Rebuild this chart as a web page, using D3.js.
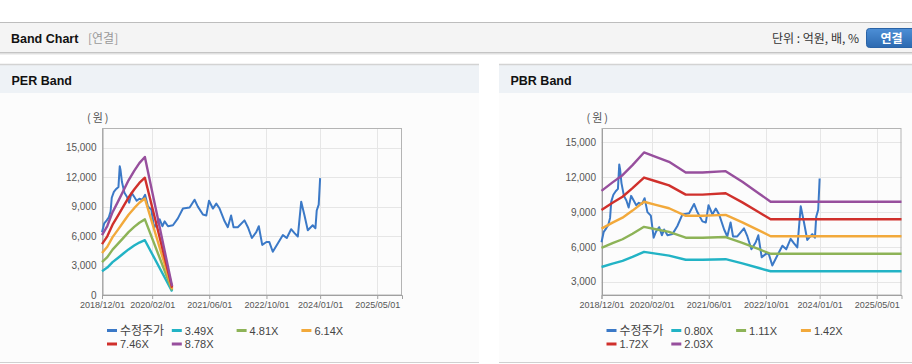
<!DOCTYPE html>
<html>
<head>
<meta charset="utf-8">
<script src="https://cdn.jsdelivr.net/npm/d3@7"></script>
<style>
body { margin: 0; background: #fff; }
svg { display: block; font-family: "Liberation Sans", Arial, "Noto Sans CJK KR", sans-serif; }
</style>
</head>
<body>
<svg id="chart" width="912" height="364"></svg>
<script>
// x axis tick labels (same on both charts)
var tickLabels = ["2018/12/01", "2020/02/01", "2021/06/01", "2022/10/01", "2024/01/01", "2025/05/01"];

// 수정주가 (adjusted price)
var priceDates = ["2018-12-01","2018-12-20","2019-01-10","2019-01-28","2019-02-12","2019-02-22","2019-03-12","2019-04-01",
  "2019-04-20","2019-05-01","2019-05-08","2019-05-20","2019-06-10","2019-07-01","2019-07-20","2019-08-10","2019-09-01",
  "2019-09-22","2019-10-15","2019-11-10","2019-12-03","2019-12-27","2020-01-25","2020-02-18","2020-03-08","2020-04-05",
  "2020-04-28","2020-05-17","2020-06-15","2020-07-27","2020-09-07","2020-10-20","2020-12-16","2021-01-27","2021-02-24",
  "2021-04-08","2021-05-07","2021-05-30","2021-07-02","2021-07-31","2021-08-28","2021-10-10","2021-11-06","2021-12-04",
  "2021-12-25","2022-01-30","2022-03-28","2022-04-26","2022-05-30","2022-07-06","2022-07-28","2022-08-26","2022-10-01",
  "2022-10-25","2022-11-24","2023-01-08","2023-02-18","2023-03-23","2023-04-29","2023-05-28","2023-06-25","2023-07-24",
  "2023-08-21","2023-09-18","2023-10-30","2023-11-22","2023-12-03","2023-12-20","2024-01-01"];
var priceValues = [6400, 7300, 7600, 7900, 8500, 9900, 10500, 10800,
  11000, 13100, 12700, 11500, 10400, 10000, 9400, 10400, 10000,
  9600, 9800, 9700, 10200, 9000, 8700, 6800, 7300, 7700,
  7000, 7500, 7000, 7100, 7800, 8800, 8900, 9700, 9000,
  8200, 8100, 9600, 8800, 9300, 8800, 7500, 6900, 8100,
  6900, 6900, 7600, 6900, 5800, 6400, 7000, 5100, 5400,
  5400, 4400, 5300, 6100, 5800, 6700, 6300, 5950, 9500,
  8100, 6600, 7100, 6800, 8600, 9200, 11900];

// PER band
var perDates = ["2018-12-01","2019-01-15","2019-03-01","2019-04-15","2019-06-01","2019-07-15","2019-09-01","2019-10-15","2019-12-01","2020-07-20"];
var per349 = [2430, 2790, 3350, 3770, 4220, 4640, 5030, 5340, 5580, 350];
var per481 = [3340, 3850, 4620, 5200, 5820, 6400, 6930, 7360, 7700, 480];
var per614 = [4270, 4910, 5890, 6630, 7430, 8170, 8840, 9390, 9820, 610];
var per746 = [5180, 5970, 7160, 8060, 9030, 9920, 10740, 11410, 11940, 750];
var per878 = [6100, 7020, 8430, 9480, 10620, 11680, 12640, 13430, 14050, 880];
var perLabels = ["3.49X", "4.81X", "6.14X", "7.46X", "8.78X"];
var perTicks = [0, 3000, 6000, 9000, 12000, 15000];

// PBR band
var pbrDates = ["2018-12-01","2019-03-05","2019-05-29","2019-08-22","2019-11-28","2020-03-07","2020-06-28","2020-11-17",
  "2021-04-09","2021-10-23","2022-03-14","2022-08-02","2022-11-10","2025-11-28"];
var pbr080 = [4270, 4560, 4800, 5140, 5570, 5420, 5250, 4890, 4890, 4940, 4580, 4180, 3900, 3900];
var pbr111 = [5920, 6320, 6660, 7140, 7730, 7520, 7290, 6790, 6790, 6850, 6350, 5800, 5410, 5410];
var pbr142 = [7580, 8090, 8520, 9130, 9890, 9620, 9330, 8680, 8680, 8760, 8120, 7420, 6920, 6920];
var pbr172 = [9180, 9800, 10320, 11060, 11980, 11660, 11300, 10510, 10510, 10620, 9840, 8990, 8380, 8380];
var pbr203 = [10830, 11560, 12180, 13050, 14140, 13760, 13330, 12410, 12410, 12530, 11610, 10610, 9890, 9890];
var pbrLabels = ["0.80X", "1.11X", "1.42X", "1.72X", "2.03X"];
var pbrTicks = [3000, 6000, 9000, 12000, 15000];

var colors = ["#3b79c7", "#22b3c5", "#8db357", "#f2a93b", "#d0302c", "#974f9d"];
var parse = d3.timeParse("%Y-%m-%d"),
    parseTick = d3.timeParse("%Y/%m/%d"),
    fmtTick = d3.timeFormat("%Y/%m/%d");

var svg = d3.select("#chart");

// top bar
svg.append("rect").attr("x", 0).attr("y", 22).attr("width", 912).attr("height", 30).attr("fill", "#f4f4f4");
svg.append("line").attr("x1", 0).attr("x2", 912).attr("y1", 22.5).attr("y2", 22.5).attr("stroke", "#bdbdbd");
svg.append("rect").attr("x", 0).attr("y", 52).attr("width", 912).attr("height", 1).attr("fill", "#c4c4c4");
svg.append("rect").attr("x", 0).attr("y", 53).attr("width", 912).attr("height", 1).attr("fill", "#e0e0e0");
svg.append("rect").attr("x", 0).attr("y", 54).attr("width", 912).attr("height", 1).attr("fill", "#f0f0f0");

svg.append("text").attr("x", 11).attr("y", 42.5)
    .attr("font-size", "12.5px").attr("font-weight", "bold").attr("fill", "#111")
    .text("Band Chart");
svg.append("text").attr("x", 88).attr("y", 42.5)
    .attr("font-size", "12px").attr("fill", "#999").attr("font-family", "'Noto Sans CJK KR', sans-serif")
    .text("[연결]");
svg.append("text").attr("x", 859).attr("y", 43).attr("text-anchor", "end")
    .attr("font-size", "12px").attr("fill", "#333").attr("font-family", "'Noto Sans CJK KR', sans-serif")
    .text("단위 : 억원, 배, %");

var grad = svg.append("defs").append("linearGradient").attr("id", "btn").attr("x1", 0).attr("x2", 0).attr("y1", 0).attr("y2", 1);
grad.append("stop").attr("offset", "0%").attr("stop-color", "#4d8fd6");
grad.append("stop").attr("offset", "100%").attr("stop-color", "#2c69b0");
svg.append("rect").attr("x", 866.5).attr("y", 28.5).attr("width", 52).attr("height", 19).attr("rx", 3)
    .attr("fill", "url(#btn)").attr("stroke", "#2a63a6");
svg.append("text").attr("x", 891.5).attr("y", 42.5).attr("text-anchor", "middle")
    .attr("font-size", "12px").attr("font-weight", "bold").attr("fill", "#fff")
    .attr("font-family", "'Noto Sans CJK KR', sans-serif")
    .text("연결");

function drawPanel(opt) {
    var g = svg.append("g");
    // panel body + header
    g.append("rect").attr("x", opt.x0).attr("y", 65).attr("width", opt.w).attr("height", 297).attr("fill", "#fcfcfc");
    g.append("rect").attr("x", opt.x0).attr("y", 65).attr("width", opt.w).attr("height", 28).attr("fill", "#eef2f6");
    g.append("line").attr("x1", opt.x0).attr("x2", opt.x0 + opt.w).attr("y1", 64.5).attr("y2", 64.5)
        .attr("stroke", "#d3d3d3").attr("stroke-width", 1.5);
    g.append("line").attr("x1", opt.x0).attr("x2", opt.x0 + opt.w).attr("y1", 362.5).attr("y2", 362.5)
        .attr("stroke", "#d0d0d0");
    g.append("text").attr("x", opt.x0 + 11.5).attr("y", 84.5)
        .attr("font-size", "12.5px").attr("font-weight", "bold").attr("fill", "#111")
        .text(opt.title);

    var left = opt.plotL, right = opt.plotL + 300, top = 128.5, bottom = 295;
    var x = d3.scaleTime().domain([parse("2018-12-01"), parse("2025-11-28")]).range([left, right]);
    var y = d3.scaleLinear().domain(opt.yDomain).range([bottom, top]);
    var xTicks = tickLabels.map(parseTick);

    // grid
    g.append("g").selectAll("line").data(opt.yTicks).enter().append("line")
        .attr("x1", left).attr("x2", right)
        .attr("y1", function(d) { return Math.round(y(d)) + 0.5; })
        .attr("y2", function(d) { return Math.round(y(d)) + 0.5; })
        .attr("stroke", "#e6e6e6");
    g.append("g").selectAll("line").data(xTicks).enter().append("line")
        .attr("x1", function(d) { return Math.round(x(d)) + 0.5; })
        .attr("x2", function(d) { return Math.round(x(d)) + 0.5; })
        .attr("y1", top).attr("y2", bottom)
        .attr("stroke", "#e6e6e6");

    // frame
    g.append("rect").attr("x", left + 0.5).attr("y", top).attr("width", 299).attr("height", bottom - top)
        .attr("fill", "none").attr("stroke", "#b4b4b4");

    // axes
    var xAxis = g.append("g").attr("transform", "translate(0," + bottom + ")")
        .call(d3.axisBottom(x).tickValues(xTicks).tickFormat(fmtTick).tickSize(4).tickPadding(3));
    xAxis.select(".domain").attr("stroke", "#a0a0a0");
    xAxis.selectAll(".tick line").attr("stroke", "#a0a0a0");
    xAxis.selectAll("text").attr("font-size", "9px").attr("fill", "#555").attr("font-family", null);

    var yAxis = g.append("g").attr("transform", "translate(" + (left + 0.5) + ",0)")
        .call(d3.axisLeft(y).tickValues(opt.yTicks).tickFormat(d3.format(",")).tickSize(0).tickPadding(6));
    yAxis.select(".domain").attr("stroke", "#a0a0a0");
    yAxis.selectAll("text").attr("font-size", "10px").attr("fill", "#555").attr("font-family", null);

    g.append("text").attr("x", left - 15).attr("y", 122)
        .attr("font-size", "11px").attr("fill", "#555").attr("letter-spacing", "2px")
        .attr("font-family", "'Noto Sans CJK KR', sans-serif")
        .text("(원)");

    // series
    var line = d3.line()
        .x(function(d) { return x(d[0]); })
        .y(function(d) { return y(d[1]); });

    var series = [d3.zip(priceDates.map(parse), priceValues)];
    opt.bands.forEach(function(b) {
        series.push(d3.zip(opt.dates.map(parse), b));
    });

    g.append("g").selectAll("path").data(series).enter().append("path")
        .attr("d", line)
        .attr("fill", "none")
        .attr("stroke", function(d, i) { return colors[i]; })
        .attr("stroke-width", function(d, i) { return i === 0 ? 2 : 2.4; })
        .attr("stroke-linejoin", "round");

    // legend
    var names = ["수정주가"].concat(opt.labels);
    var leg = g.append("g").selectAll("g").data(names).enter().append("g")
        .attr("transform", function(d, i) {
            return "translate(" + (left + 5 + (i % 4) * 64.8) + "," + (330.5 + Math.floor(i / 4) * 13.5) + ")";
        });
    leg.append("line").attr("x1", 0).attr("x2", 10).attr("y1", 0).attr("y2", 0)
        .attr("stroke", function(d, i) { return colors[i]; }).attr("stroke-width", 3);
    leg.append("text").attr("x", 13).attr("y", 4)
        .attr("font-size", function(d, i) { return i === 0 ? "12px" : "11px"; })
        .attr("font-family", function(d, i) { return i === 0 ? "'Noto Sans CJK KR', sans-serif" : null; })
        .attr("fill", "#444")
        .text(function(d) { return d; });
}

drawPanel({ x0: 0, w: 479, title: "PER Band", plotL: 102, yDomain: [0, 16950], yTicks: perTicks,
    dates: perDates, bands: [per349, per481, per614, per746, per878], labels: perLabels });
drawPanel({ x0: 499, w: 413, title: "PBR Band", plotL: 601.5, yDomain: [1855, 16205], yTicks: pbrTicks,
    dates: pbrDates, bands: [pbr080, pbr111, pbr142, pbr172, pbr203], labels: pbrLabels });
</script>
</body>
</html>
